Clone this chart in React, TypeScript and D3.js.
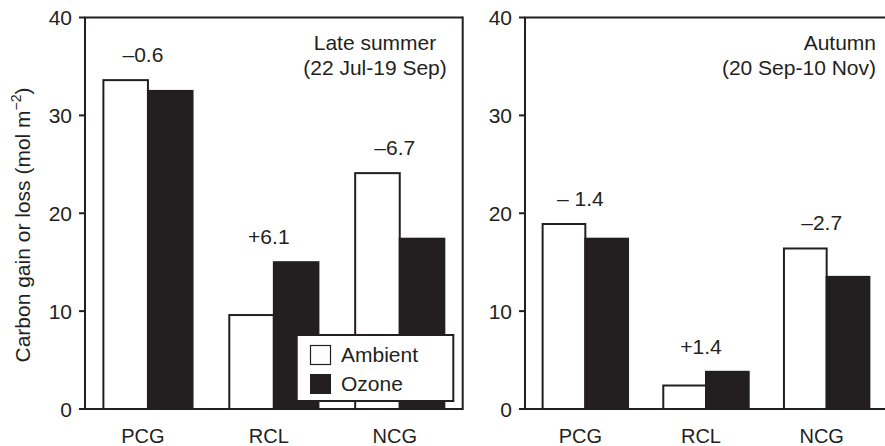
import React from "react";
import * as d3 from "d3";

const categories = ["PCG", "RCL", "NCG"];
const summerAmbient = [33.6, 9.6, 24.1];
const summerOzone = [32.5, 15.0, 17.4];
const autumnAmbient = [18.9, 2.4, 16.4];
const autumnOzone = [17.4, 3.8, 13.5];
const summerDiff = ["–0.6", "+6.1", "–6.7"];
const autumnDiff = ["– 1.4", "+1.4", "–2.7"];
const yTicks = [0, 10, 20, 30, 40];

const W = 885;
const H = 446;
const TOP = 17.5;
const BASE = 409;
const INK = "#231f20";
const FONT = "'Liberation Sans', Arial, Helvetica, sans-serif";
const FS = 21;

type PanelProps = {
  x0: number;
  x1: number;
  ambient: number[];
  ozone: number[];
  diffs: string[];
  titleLines: string[];
  titleX: number;
  titleAnchor: "middle" | "end";
  drawRight: boolean;
};

function Panel(p: PanelProps) {
  const x = d3.scaleBand<string>().domain(categories).range([p.x0, p.x1]).padding(0);
  const y = d3.scaleLinear().domain([0, 40]).range([BASE, TOP]);
  const bw = x.step() * 0.354;
  return (
    <g>
      {categories.map((c, i) => {
        const cx = (x(c) as number) + x.bandwidth() / 2;
        const top = Math.min(y(p.ambient[i]), y(p.ozone[i]));
        return (
          <g key={c}>
            <rect x={cx - bw} y={y(p.ambient[i])} width={bw} height={BASE - y(p.ambient[i])} fill="#fff" stroke={INK} strokeWidth={2} />
            <rect x={cx} y={y(p.ozone[i])} width={bw} height={BASE - y(p.ozone[i])} fill={INK} stroke={INK} strokeWidth={2} />
            <text x={cx - 5} y={top - 18} textAnchor="middle" fontSize={FS} fill={INK}>{p.diffs[i]}</text>
            <text x={cx - 5} y={443} textAnchor="middle" fontSize={20} fill={INK}>{c}</text>
          </g>
        );
      })}
      <line x1={p.x0} x2={p.x0} y1={TOP} y2={BASE} stroke={INK} strokeWidth={2} />
      <line x1={p.x0 - 1} x2={p.x1} y1={TOP} y2={TOP} stroke={INK} strokeWidth={2} />
      <line x1={p.x0 - 1} x2={p.x1} y1={BASE} y2={BASE} stroke={INK} strokeWidth={2} />
      {p.drawRight && <line x1={p.x1} x2={p.x1} y1={TOP - 1} y2={BASE + 1} stroke={INK} strokeWidth={2} />}
      {yTicks.map((t) => (
        <g key={t}>
          <line x1={p.x0 - 6} x2={p.x0} y1={y(t)} y2={y(t)} stroke={INK} strokeWidth={2} />
          <text x={p.x0 - 13} y={y(t) + 7.5} textAnchor="end" fontSize={FS} fill={INK}>{t}</text>
        </g>
      ))}
      {p.titleLines.map((l, i) => (
        <text key={i} x={p.titleX} y={50 + i * 25} textAnchor={p.titleAnchor} fontSize={FS} fill={INK}>{l}</text>
      ))}
    </g>
  );
}

export default function App() {
  return (
    <svg width={W} height={H} style={{ position: "absolute", left: 0, top: 0, display: "block", background: "#fff" }} fontFamily={FONT}>
      <Panel x0={85} x1={462.7} ambient={summerAmbient} ozone={summerOzone} diffs={summerDiff}
        titleLines={["Late summer", "(22 Jul-19 Sep)"]} titleX={375} titleAnchor="middle" drawRight={true} />
      <Panel x0={525} x1={887} ambient={autumnAmbient} ozone={autumnOzone} diffs={autumnDiff}
        titleLines={["Autumn", "(20 Sep-10 Nov)"]} titleX={876} titleAnchor="end" drawRight={false} />
      <g>
        <rect x={296.7} y={335} width={156.6} height={66} fill="#fff" stroke={INK} strokeWidth={2} />
        <rect x={310.5} y={345.5} width={20} height={19} fill="#fff" stroke={INK} strokeWidth={1.2} />
        <rect x={310} y={374} width={21} height={20} fill={INK} />
        <text x={341} y={362} fontSize={FS} fill={INK}>Ambient</text>
        <text x={341} y={391} fontSize={FS} fill={INK}>Ozone</text>
      </g>
      <text transform="translate(30,225) rotate(-90)" textAnchor="middle" fontSize={FS} fill={INK}>
        Carbon gain or loss (mol m<tspan dy={-9} fontSize={14}>−2</tspan><tspan dy={9}>)</tspan>
      </text>
    </svg>
  );
}
